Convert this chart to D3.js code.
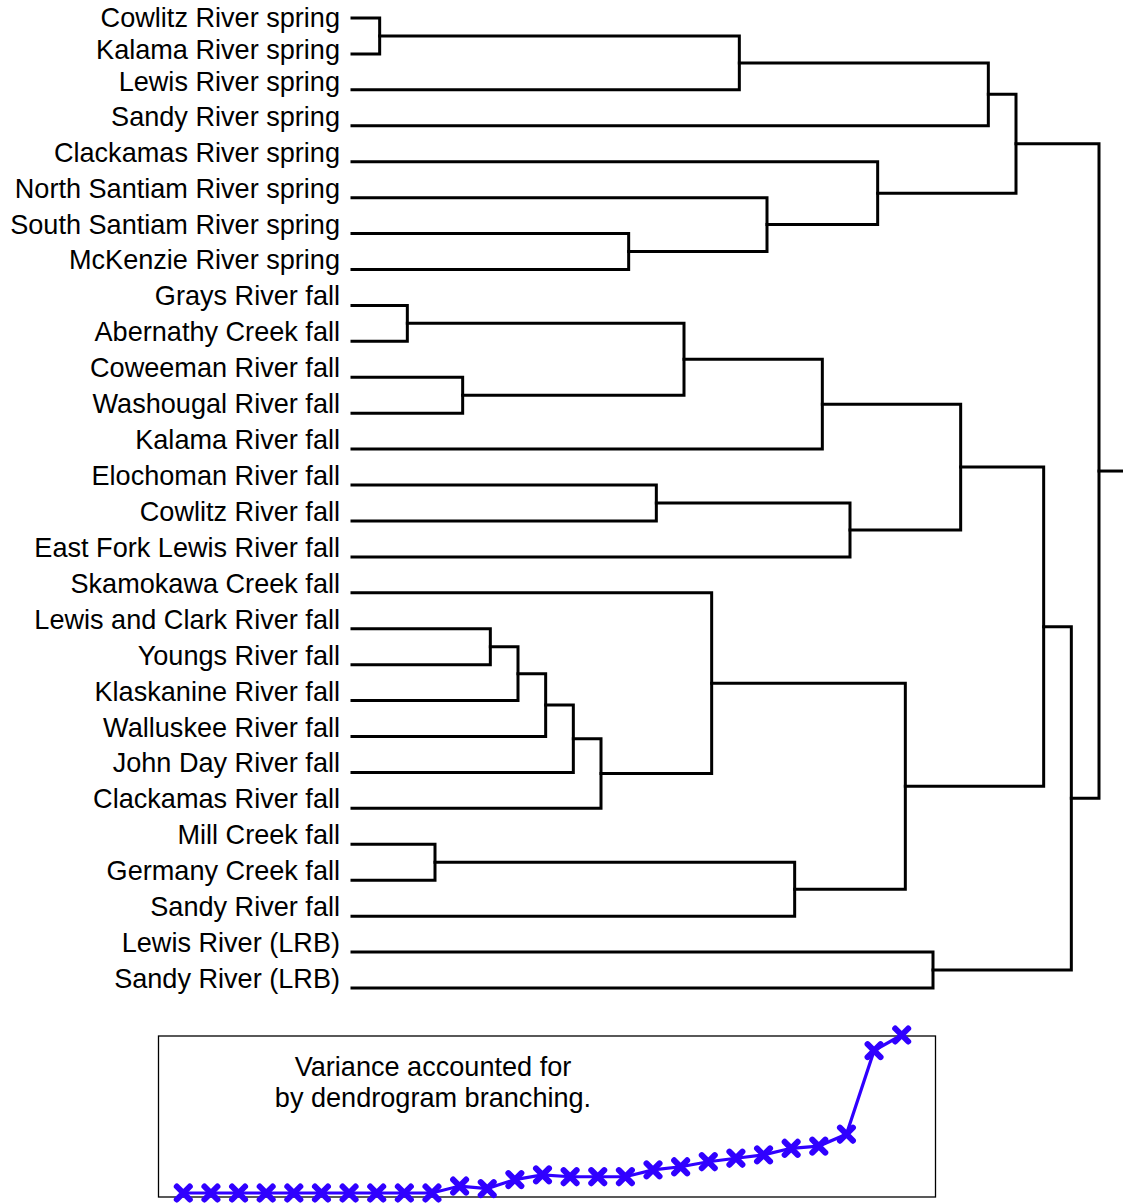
<!DOCTYPE html>
<html>
<head>
<meta charset="utf-8">
<script src="https://cdn.jsdelivr.net/npm/d3@7"></script>
<style>
  html, body { margin: 0; padding: 0; background: #fff; }
  svg { display: block; }
  text { font-family: "Liberation Sans", Arial, sans-serif; }
</style>
</head>
<body>
<svg id="chart" width="1123" height="1204"></svg>
<script>
// Populations, top to bottom
const leaves = [
  "Cowlitz River spring", "Kalama River spring", "Lewis River spring", "Sandy River spring",
  "Clackamas River spring", "North Santiam River spring", "South Santiam River spring",
  "McKenzie River spring", "Grays River fall", "Abernathy Creek fall", "Coweeman River fall",
  "Washougal River fall", "Kalama River fall", "Elochoman River fall", "Cowlitz River fall",
  "East Fork Lewis River fall", "Skamokawa Creek fall", "Lewis and Clark River fall",
  "Youngs River fall", "Klaskanine River fall", "Walluskee River fall", "John Day River fall",
  "Clackamas River fall", "Mill Creek fall", "Germany Creek fall", "Sandy River fall",
  "Lewis River (LRB)", "Sandy River (LRB)"
];

// Joins in the order they happen; "#k" refers to the cluster made at join k
const joinUpper = [
  "Cowlitz River spring", "Grays River fall", "Mill Creek fall", "Coweeman River fall",
  "Lewis and Clark River fall", "#5", "#6", "#7", "#8",
  "South Santiam River spring", "Elochoman River fall", "#2", "Skamokawa Creek fall",
  "#1", "North Santiam River spring", "#3", "#12", "#11", "Clackamas River spring",
  "#13", "Lewis River (LRB)", "#17", "#14", "#23", "#22", "#25", "#24"
];
const joinLower = [
  "Kalama River spring", "Abernathy Creek fall", "Germany Creek fall", "Washougal River fall",
  "Youngs River fall", "Klaskanine River fall", "Walluskee River fall", "John Day River fall",
  "Clackamas River fall", "McKenzie River spring", "Cowlitz River fall", "#4", "#9",
  "Lewis River spring", "#10", "Sandy River fall", "Kalama River fall",
  "East Fork Lewis River fall", "#15", "#16", "Sandy River (LRB)", "#18",
  "Sandy River spring", "#19", "#20", "#21", "#26"
];

// Variance accounted for after each join (% of the total)
const varianceSteps = d3.range(1, 28);
const varianceValues = [
  0, 0, 0, 0, 0, 0, 0, 0, 0, 0,
  4.4, 2.8, 8.5, 11.5, 10.3, 10.3, 10.3, 14.6, 16.6, 19.8,
  22.0, 24.1, 28.3, 29.7, 37.2, 90.1, 100
];

const svg = d3.select("#chart");
const W = 1123;
const FONT = 27.1;

// ---------- dendrogram ----------
const x = d3.scaleLinear().domain([0, joinUpper.length]).range([352, 1099]);
const y = d3.scalePoint().domain(leaves).range([18, 988]);

const pos = new Map();
leaves.forEach(n => pos.set(n, { x: x(0), y: y(n) }));

const ref = r => pos.get(r);
const tree = svg.append("g")
  .attr("fill", "none")
  .attr("stroke", "#000")
  .attr("stroke-width", 3)
  .attr("stroke-linecap", "square");

joinUpper.forEach((u, i) => {
  const step = i + 1;
  const a = ref(u), b = ref(joinLower[i]);
  const nx = x(step);
  tree.append("path")
    .attr("d", `M${a.x},${a.y}H${nx}V${b.y}H${b.x}`);
  pos.set("#" + step, { x: nx, y: (a.y + b.y) / 2 });
});

// stub leaving the root
const root = pos.get("#" + joinUpper.length);
tree.append("path").attr("d", `M${root.x},${root.y}H${W}`);

// leaf labels, kept inside the top edge and apart from each other
let prev = -Infinity;
const labelY = leaves.map((n, i) => {
  let v = Math.max(y(n), i === 0 ? 27 : prev + 32);
  prev = v;
  return v;
});
svg.append("g")
  .attr("font-size", FONT)
  .attr("text-anchor", "end")
  .attr("fill", "#000")
  .selectAll("text")
  .data(leaves)
  .join("text")
  .attr("x", 340)
  .attr("y", (d, i) => labelY[i])
  .text(d => d);

// ---------- variance inset ----------
const inset = svg.append("g");
inset.append("rect")
  .attr("x", 158.5).attr("y", 1036)
  .attr("width", 777).attr("height", 161)
  .attr("fill", "none")
  .attr("stroke", "#000")
  .attr("stroke-width", 1.3);

inset.append("text")
  .attr("x", 433).attr("y", 1076)
  .attr("font-size", FONT).attr("text-anchor", "middle")
  .text("Variance accounted for");
inset.append("text")
  .attr("x", 433).attr("y", 1107)
  .attr("font-size", FONT).attr("text-anchor", "middle")
  .text("by dendrogram branching.");

const vx = d3.scaleLinear().domain([1, 27]).range([183.3, 901.7]);
const vy = d3.scaleLinear().domain([0, 100]).range([1193, 1035]);
const blue = "#3000ff";
const pts = varianceSteps.map((s, i) => [vx(s), vy(varianceValues[i])]);

inset.append("path")
  .attr("d", d3.line()(pts))
  .attr("fill", "none")
  .attr("stroke", blue)
  .attr("stroke-width", 3.2);

const r = 6.5;
inset.append("g")
  .selectAll("path")
  .data(pts)
  .join("path")
  .attr("d", ([px, py]) => `M${px - r},${py - r}L${px + r},${py + r}M${px - r},${py + r}L${px + r},${py - r}`)
  .attr("stroke", blue)
  .attr("stroke-width", 6)
  .attr("stroke-linecap", "round")
  .attr("fill", "none");
</script>
</body>
</html>
